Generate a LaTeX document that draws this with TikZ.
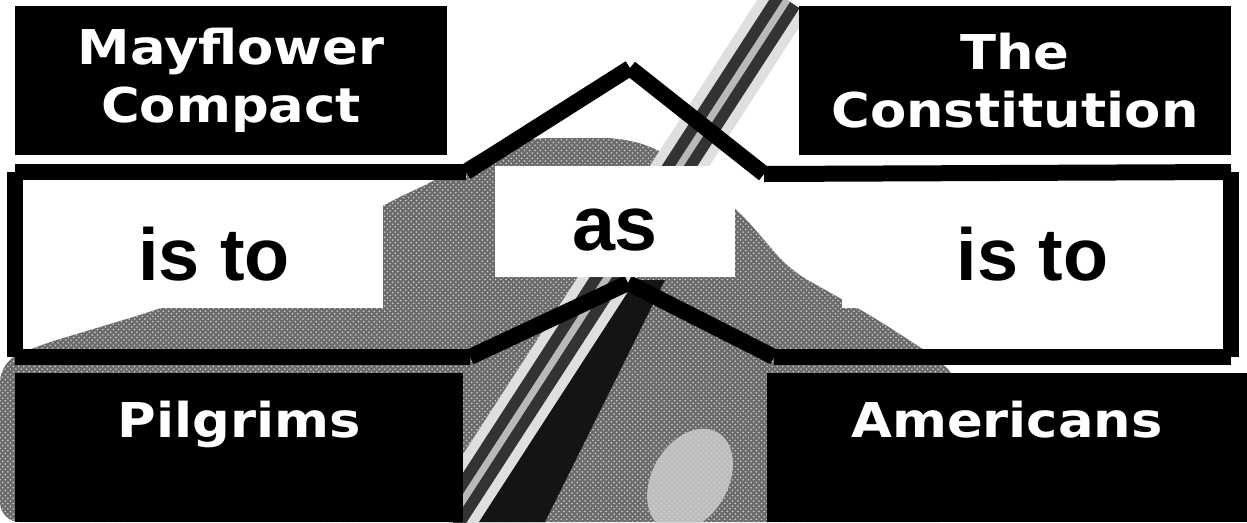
\documentclass[tikz,border=0pt]{standalone}
\usepackage{fontspec}
\usepackage{tikz}
\usetikzlibrary{patterns}
\newfontfamily\boxfont{DejaVu Sans}[FakeStretch=1.1]
\newfontfamily\wordfont{Liberation Sans}
\tikzset{
  namebox/.style={fill=black,text=white,inner sep=0pt,align=center,
    minimum width=8.64cm,minimum height=2.98cm,
    font=\boxfont\bfseries\fontsize{27.3}{33}\selectfont},
  lowbox/.style={namebox,text height=0.8cm,text depth=1.22cm},
  wordbox/.style={fill=white,inner sep=0pt,minimum height=2.22cm,
    text height=1.1cm,text depth=0pt,
    font=\wordfont\bfseries\fontsize{42}{50}\selectfont},
  frameline/.style={line width=0.32cm,line cap=butt},
  halftone/.style={fill=black!58,postaction={pattern=crosshatch dots,pattern color=gray!35}},
  rope/.style={line width=0.6cm,draw=black!80,line cap=butt}
}

\begin{document}
\begin{tikzpicture}[x=0.02cm,y=-0.02cm]
  \useasboundingbox (0,0) rectangle (1247,522);
  \fill[white] (0,0) rectangle (1247,522);
  % photo behind the frame
  \path[halftone,rounded corners=0.4cm] (0,522) -- (0,362) -- (40,345) -- (150,312)
    -- (300,258) -- (383,205) -- (440,178) -- (490,147) -- (530,138) -- (625,138)
    -- (665,152) -- (700,180) -- (740,212) -- (790,270) -- (875,318) -- (935,357)
    -- (960,380) -- (960,522) -- cycle;
  \fill[black!92] (610,280) -- (665,280) -- (545,522) -- (465,522) -- cycle;
  \fill[gray!35,opacity=0.8,rotate around={-30:(690,480)}] (690,480) ellipse (38 and 55);
  \draw[line width=1cm,draw=gray!25] (787,0) -- (449,522);
  \draw[rope] (787,0) -- (449,522);
  \draw[line width=0.14cm,draw=gray!55] (787,0) -- (449,522);

  % the frame
  \coordinate (frameNW) at (15,172);
  \coordinate (frameSW) at (15,357);
  \coordinate (roofW) at (466,172);
  \coordinate (roofTop) at (630,68);
  \coordinate (roofE) at (764,174);
  \coordinate (frameNE) at (1231,172);
  \coordinate (frameSE) at (1231,357);
  \coordinate (keelE) at (774,357);
  \coordinate (keelTop) at (628,283);
  \coordinate (keelW) at (470,357);
  \draw[frameline] (frameNW) -- (frameSW);
  \draw[frameline] (frameNW) -- (roofW);
  \draw[frameline] (roofW) -- (roofTop);
  \draw[frameline] (roofTop) -- (roofE);
  \draw[frameline] (roofE) -- (frameNE);
  \draw[frameline] (frameNE) -- (frameSE);
  \draw[frameline] (frameSE) -- (keelE);
  \draw[frameline] (keelE) -- (keelTop);
  \draw[frameline] (keelTop) -- (keelW);
  \draw[frameline] (keelW) -- (frameSW);

  \node[namebox] (mayflower) at (231,80.5) {Mayflower\\Compact};
  \node[namebox] (constitution) at (1015,80.5) {The\\Constitution};
  \node[lowbox,minimum width=8.96cm] (pilgrims) at (239,447.5) {Pilgrims};
  \node[lowbox,minimum width=9.6cm] (americans) at (1007,447.5) {Americans};
  \node[wordbox,minimum width=6.76cm] (istoleft) at (214,252.5) {is to};
  \node[wordbox,minimum width=7.62cm] (istoright) at (1032.5,252.5) {is to};
  \node[wordbox,minimum width=4.8cm,text height=1.14cm,
    font=\wordfont\bfseries\fontsize{44}{52}\selectfont] (as) at (615,221.5) {as};
\end{tikzpicture}
\end{document}
